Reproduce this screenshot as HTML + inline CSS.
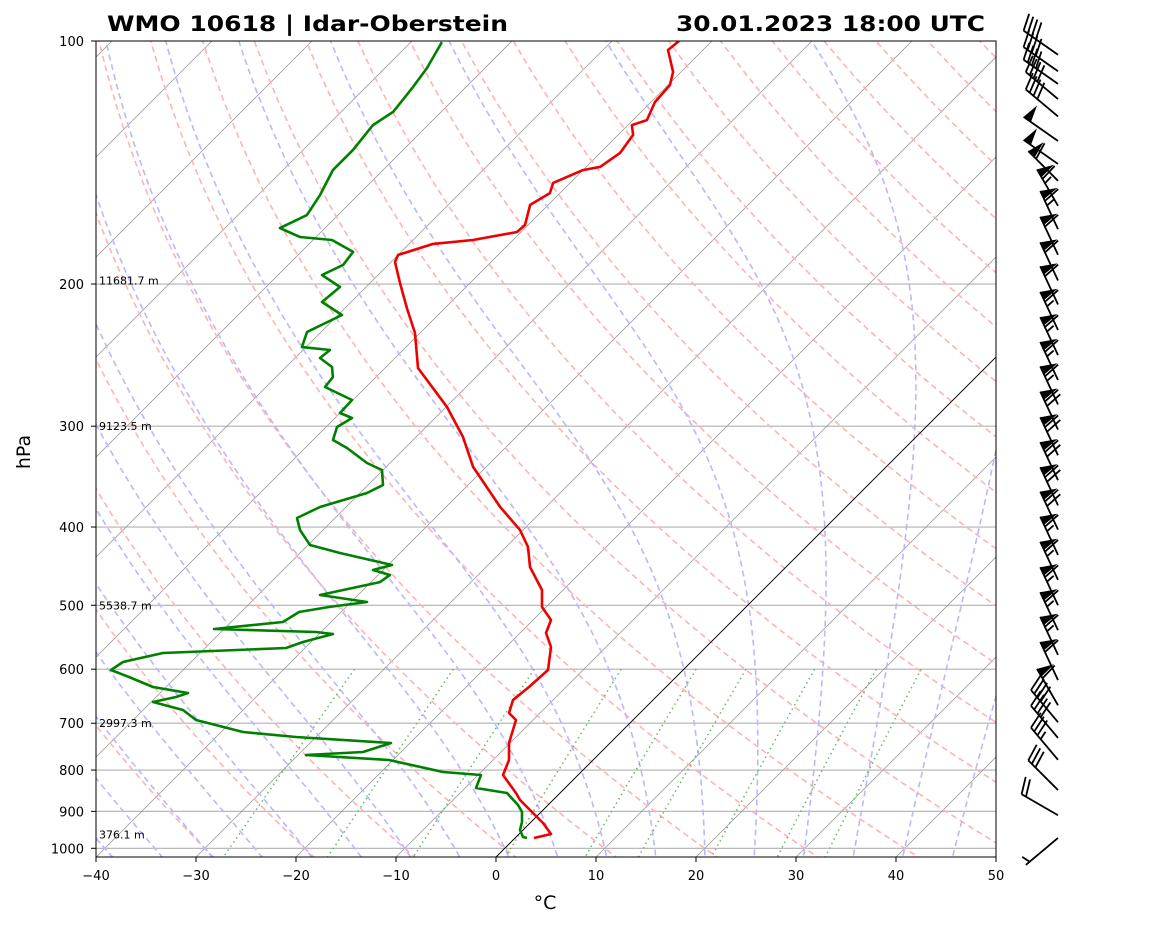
<!DOCTYPE html>
<html><head><meta charset="utf-8">
<style>
html,body{margin:0;padding:0;background:#fff;}
svg{display:block;font-family:"DejaVu Sans","Liberation Sans",sans-serif;}
</style></head>
<body>
<svg id="chart" width="1160" height="925" viewBox="0 0 1160 925" xmlns="http://www.w3.org/2000/svg">
<defs><clipPath id="plotclip"><rect x="96" y="41" width="900" height="816"/></clipPath></defs>
<rect x="0" y="0" width="1160" height="925" fill="#fff"/>
<text x="107" y="31" font-size="21" font-weight="bold" textLength="401" lengthAdjust="spacingAndGlyphs">WMO 10618 | Idar-Oberstein</text>
<text x="676" y="31" font-size="21" font-weight="bold" textLength="309" lengthAdjust="spacingAndGlyphs">30.01.2023 18:00 UTC</text>
<g id="bg" clip-path="url(#plotclip)"></g>
<g id="series" clip-path="url(#plotclip)"></g>
<g id="labels"></g>
<rect x="96" y="41" width="900" height="816" fill="none" stroke="#000" stroke-width="1"/>
<g id="axes"></g>
<g id="barbs"></g>
<text x="545" y="909" font-size="19" text-anchor="middle">°C</text>
<text x="0" y="0" font-size="19" text-anchor="middle" transform="translate(30,452) rotate(-90)">hPa</text>
</svg>
<script>
// ---- data ----
const tempP = [100,102.6,109.2,113.4,119,125.3,127.1,130.7,137.6,143.2,144.5,149.9,154.3,159.6,169,172.4,176.4,178.4,184.1,187.8,199.4,214.2,230,254.1,284,309.4,337,377.7,403.4,423.4,448.3,478.7,502.5,521.5,541.1,563.2,601.4,631.2,655.1,679.9,693.6,740.6,777.4,811.4,854.2,871.4,896.6,930.5,960.1,971.2];
const tempT = [-63.3,-63.5,-60.8,-59.8,-59.6,-58.6,-59.6,-58.5,-58,-58.6,-60,-61.7,-61,-61.8,-60.3,-60.4,-64,-67.6,-70,-69.6,-67,-63.8,-60.5,-56.7,-49.9,-45.3,-41.3,-34.6,-30.3,-27.8,-25.6,-22.1,-20.4,-18.2,-17.4,-15.5,-13.5,-13.7,-14,-13.1,-11.7,-10.1,-8.4,-7.5,-4.4,-3.3,-1.3,1.3,3.2,1.9];
const dewP = [100.3,108,114,122.4,127.1,136.5,144.5,155.1,164.3,170.5,174.9,176.4,182.5,189.4,194.9,201.7,210.5,218.5,229.3,239.4,241.4,247,253.4,260.8,268.3,278.4,288.9,293.1,300.7,312.1,319.3,333.2,339.9,354.8,363,377.8,389.8,403.4,421,430.7,445.7,452.2,458.7,468,485.6,495.4,502.5,509.7,524.5,535,539.6,542.7,555.2,564.8,573,587.9,601.4,613.6,631.2,642.2,649.5,658.8,674.1,693.6,717.8,728.1,740.6,759.9,766.4,777.4,804.5,811.4,842.1,854.2,883.9,901.7,927.8,949.3,968.4,971.2];
const dewT = [-86.9,-85.8,-85.3,-84.8,-85.5,-85,-85,-83.8,-83.1,-84.5,-81.6,-78.1,-74.8,-74.5,-75.6,-72.6,-72.9,-69.6,-71.4,-70.4,-67.3,-67.5,-65.4,-64.3,-64.1,-60.1,-60,-58.3,-58.9,-58,-55.8,-52.3,-50.1,-48.5,-49.3,-52.6,-53.8,-52.3,-49.8,-46,-39.6,-41,-38.8,-39.1,-43.8,-38.4,-41.7,-44.2,-44.8,-51,-40.5,-38.6,-40.8,-41.9,-53.7,-56.8,-57.2,-54.7,-51.3,-47.2,-48,-49.8,-46,-43.7,-37.8,-32,-21.9,-23.8,-29.2,-20.4,-13.8,-9.7,-8.9,-5.3,-3,-1.9,-0.9,-0.3,0.7,1.2];
const windP = [104,109,113,118,124,133,142,149,160,171,184,198,212,228,245,263,282,303,326,350,376,403,433,465,500,537,576,619,665,698,730,777,847,910,971];
const windSpd = [40,40,40,40,40,50,50,60,65,65,60,60,60,65,65,65,65,70,70,70,70,70,65,65,65,65,65,60,60,40,40,35,30,20,5];
const windDir = [305,305,305,310,310,305,305,315,330,335,335,335,335,335,335,335,335,335,335,335,335,335,335,335,335,335,335,335,330,320,320,320,315,300,230];
const pTicks = [100,200,300,400,500,600,700,800,900,1000];
const tTicks = [-40,-30,-20,-10,0,10,20,30,40,50];
const hLabelP = [198, 300, 500, 700, 962];
const hLabels = ["11681.7 m","9123.5 m","5538.7 m","2997.3 m","376.1 m"];

// ---- axis functions ----
const NS="http://www.w3.org/2000/svg";
const X0=96,Y0=41,YB=857,K=350.6;
function yP(p){return Y0+K*Math.log(p/100);}
function xT(T,p){return X0+(T+40)*10+(YB-yP(p));}
function mk(tag,attrs,parent){const e=document.createElementNS(NS,tag);for(const k in attrs)e.setAttribute(k,attrs[k]);parent.appendChild(e);return e;}
const bg=document.getElementById('bg'), ser=document.getElementById('series'), ax=document.getElementById('axes'), lab=document.getElementById('labels'), bb=document.getElementById('barbs');
function pathFrom(pts){return pts.map((q,i)=>(i?'L':'M')+q[0].toFixed(1)+' '+q[1].toFixed(1)).join(' ');}

for(const p of pTicks){
  const l=mk('line',{x1:96,x2:996,y1:yP(p),y2:yP(p),stroke:'#b0b0b0','stroke-width':1.1},bg);
  
  
}
for(let T=-160;T<=50;T+=10){
  const l=mk('line',{x1:xT(T,1025),y1:YB,x2:xT(T,100),y2:Y0,stroke:'#999','stroke-width':0.8},bg);
  
  
}
const pLev=[];for(let p=1050;p>=95;p-=10)pLev.push(p);
for(let th=-50;th<=220;th+=10){
  const pts=pLev.map(p=>[xT((th+273.15)*Math.pow(p/1000,0.2857)-273.15,p),yP(p)]);
  const e=mk('path',{d:pathFrom(pts),fill:'none',stroke:'#ffb3b3','stroke-width':1.6,'stroke-dasharray':'6,4'},bg);
  
  
}
function es(Tc){return 6.112*Math.exp(17.67*Tc/(Tc+243.5));}
function dTdp(T,p){const Rd=287.04,Cp=1005.7,Lv=2.501e6,eps=0.622;const rs=eps*es(T-273.15)/(p-es(T-273.15));
  return (Rd*T+Lv*rs)/(Cp+Lv*Lv*rs*eps/(Rd*T*T))/p;}
for(let t0=-40;t0<=50;t0+=5){
  let pts=[];let T=t0+273.15;
  let Td=T;for(let p=1000;p<1050;p+=5){Td+=dTdp(Td,p)*5;}
  pts.push([xT(Td-273.15,1050),yP(1050)]);
  for(let p=1000;p>=100;p-=5){pts.push([xT(T-273.15,p),yP(p)]);T-=dTdp(T,p)*5;}
  const e=mk('path',{d:pathFrom(pts),fill:'none',stroke:'#b8b8ff','stroke-width':1.6,'stroke-dasharray':'6,4'},bg);
  
  
}
for(const w of [0.0004,0.001,0.002,0.004,0.007,0.01,0.016,0.024,0.032]){
  const pts=[];for(let p=600;p<=1050;p+=25){const e=w*p/(0.622+w);const l=Math.log(e/6.112);pts.push([xT(243.5*l/(17.67-l),p),yP(p)]);}
  const e=mk('path',{d:pathFrom(pts),fill:'none',stroke:'#6bb56b','stroke-width':1.5,'stroke-dasharray':'1.5,3.5'},bg);
  
  
}
const z=mk('line',{x1:xT(0,1025),y1:YB,x2:xT(0,100),y2:Y0,stroke:'#000','stroke-width':0.9},bg);



const tp=mk('path',{d:pathFrom(tempP.map((p,i)=>[xT(tempT[i],p),yP(p)])),fill:'none',stroke:'#e00','stroke-width':2.6,'stroke-linejoin':'round'},ser);


const dp=mk('path',{d:pathFrom(dewP.map((p,i)=>[xT(dewT[i],p),yP(p)])),fill:'none',stroke:'#008000','stroke-width':2.6,'stroke-linejoin':'round'},ser);



hLabelP.forEach((p,i)=>{
  const t=mk('text',{x:99,y:yP(p)+4,'font-size':11},lab);t.textContent=hLabels[i];
  
  
});

pTicks.forEach(p=>{
  const y=yP(p);
  const l=mk('line',{x1:91,x2:96,y1:y,y2:y,stroke:'#000'},ax);
  
  
  const t=mk('text',{x:84,y:y+5,'font-size':13,'text-anchor':'end'},ax);t.textContent=p;
  
  
});
tTicks.forEach(T=>{
  const x=X0+(T+40)*10;
  const l=mk('line',{x1:x,x2:x,y1:857,y2:862,stroke:'#000'},ax);
  
  
  const t=mk('text',{x:x,y:880,'font-size':13,'text-anchor':'middle'},ax);t.textContent=(T<0?'\u2212'+(-T):T);
  
  
});

const BX=1058,L=42;
windP.forEach((p,i)=>{
  const g=mk('g',{},bb);
  
  
  const d=windDir[i]*Math.PI/180;
  const ux=Math.sin(d),uy=-Math.cos(d);
  const px=-uy,py=ux;
  const bx=BX,by=yP(p);
  const tx=bx+ux*L,ty=by+uy*L;
  mk('line',{x1:bx,y1:by,x2:tx,y2:ty,stroke:'#000','stroke-width':1.8},g);
  let s=windSpd[i];let flags=Math.floor(s/50);s-=flags*50;let full=Math.floor(s/10);s-=full*10;let half=s>=5?1:0;
  let pos=0;const H=17,W=9,SP=5;
  for(let f=0;f<flags;f++){
    const ax1=tx-ux*pos,ay1=ty-uy*pos,ax2=tx-ux*(pos+W),ay2=ty-uy*(pos+W);
    const apx=tx-ux*(pos+W/2)+px*H,apy=ty-uy*(pos+W/2)+py*H;
    mk('polygon',{points:`${ax1},${ay1} ${apx},${apy} ${ax2},${ay2}`,fill:'#000'},g);
    pos+=W+2;
  }
  if(flags===0&&full===0&&half===1)pos+=SP;
  for(let f=0;f<full+half;f++){
    const h=f<full?H:H/2;
    const sx=tx-ux*pos,sy=ty-uy*pos;
    mk('line',{x1:sx,y1:sy,x2:sx+px*h+ux*h*0.3,y2:sy+py*h+uy*h*0.3,stroke:'#000','stroke-width':1.8},g);
    pos+=SP;
  }
});
</script>
</body></html>
